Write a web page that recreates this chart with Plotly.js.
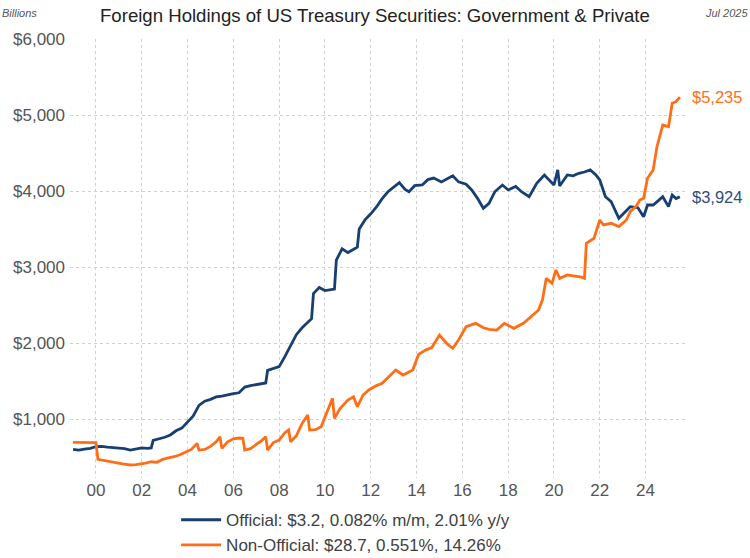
<!DOCTYPE html>
<html>
<head>
<meta charset="utf-8">
<script src="https://cdn.plot.ly/plotly-3.0.1.min.js"></script>
<style>html,body{margin:0;padding:0;background:#fff;}#chart{width:750px;height:558px;}</style>
</head>
<body>
<div id="chart"></div>
<script>
// ---- Data (billions USD) ----
var officialDates = ["1999-01","1999-04","1999-07","1999-10","2000-01","2000-04","2000-07","2000-10","2001-01","2001-04","2001-07","2001-10","2002-01","2002-04","2002-06","2002-07","2002-10","2003-01","2003-04","2003-07","2003-10","2004-01","2004-04","2004-07","2004-10","2005-01","2005-04","2005-07","2005-10","2006-01","2006-04","2006-07","2006-10","2007-01","2007-04","2007-06","2007-07","2007-10","2008-01","2008-04","2008-07","2008-10","2009-01","2009-04","2009-06","2009-07","2009-10","2010-01","2010-04","2010-06","2010-07","2010-10","2011-01","2011-04","2011-06","2011-07","2011-10","2012-01","2012-04","2012-07","2012-10","2013-01","2013-04","2013-07","2013-09","2013-12","2014-04","2014-07","2014-10","2015-02","2015-05","2015-08","2015-11","2016-03","2016-06","2016-09","2016-12","2017-03","2017-06","2017-10","2018-01","2018-05","2018-08","2018-12","2019-04","2019-08","2020-01","2020-03","2020-04","2020-08","2020-11","2021-02","2021-05","2021-08","2021-11","2022-01","2022-04","2022-07","2022-11","2023-02","2023-05","2023-09","2023-12","2024-02","2024-05","2024-08","2024-10","2025-01","2025-03","2025-05","2025-07"];
var officialValues = [600,590,605,615,635,640,630,625,615,610,592,610,620,615,620,720,735,760,790,845,880,960,1040,1180,1235,1259,1290,1300,1320,1335,1345,1420,1440,1455,1470,1475,1640,1660,1690,1820,1960,2110,2200,2280,2320,2650,2730,2690,2700,2710,3090,3240,3190,3230,3260,3500,3620,3700,3790,3900,3990,4050,4110,4020,3990,4070,4080,4150,4170,4120,4160,4200,4120,4090,4010,3900,3773,3838,3990,4079,4014,4060,3991,3925,4101,4211,4079,4277,4066,4211,4200,4233,4250,4277,4210,4145,3925,3860,3641,3720,3794,3780,3662,3816,3816,3880,3925,3794,3947,3900,3924];

var privateDates = ["1999-01","1999-06","1999-10","2000-01","2000-02","2000-06","2000-10","2001-03","2001-07","2001-10","2002-03","2002-06","2002-09","2002-12","2003-03","2003-06","2003-09","2003-12","2004-03","2004-06","2004-07","2004-10","2005-01","2005-04","2005-06","2005-07","2005-10","2006-01","2006-04","2006-06","2006-07","2006-10","2007-01","2007-04","2007-06","2007-07","2007-10","2008-01","2008-04","2008-06","2008-07","2008-10","2009-01","2009-04","2009-05","2009-08","2009-11","2010-02","2010-05","2010-06","2010-09","2011-01","2011-04","2011-06","2011-09","2011-12","2012-04","2012-07","2012-10","2013-02","2013-06","2013-11","2014-02","2014-06","2014-09","2015-01","2015-05","2015-08","2015-11","2016-03","2016-08","2016-12","2017-03","2017-07","2017-11","2018-04","2018-09","2019-01","2019-05","2019-07","2019-09","2019-12","2020-02","2020-04","2020-08","2020-12","2021-03","2021-05","2021-06","2021-10","2022-01","2022-03","2022-07","2022-11","2023-03","2023-05","2023-08","2023-10","2023-12","2024-02","2024-05","2024-07","2024-10","2025-01","2025-03","2025-05","2025-07"];
var privateValues = [693,690,688,690,470,450,430,410,395,400,420,438,430,470,490,504,530,560,600,680,592,600,640,700,767,614,700,740,750,746,592,610,660,720,767,592,690,724,820,855,701,780,943,1053,855,860,899,1100,1272,1009,1141,1250,1294,1162,1316,1382,1440,1470,1550,1645,1579,1645,1850,1910,1940,2105,1990,1930,2040,2215,2259,2200,2180,2171,2259,2193,2259,2346,2435,2566,2851,2786,2961,2851,2895,2880,2870,2851,3312,3378,3619,3553,3575,3531,3619,3728,3794,3882,3904,4167,4277,4583,4868,4846,5154,5175,5235];

var seriesNames = ["Official: $3.2, 0.082% m/m, 2.01% y/y", "Non-Official: $28.7, 0.551%, 14.26%"];
var endLabels = ["$3,924", "$5,235"];
var xTickVals = ["2000-01-01","2002-01-01","2004-01-01","2006-01-01","2008-01-01","2010-01-01","2012-01-01","2014-01-01","2016-01-01","2018-01-01","2020-01-01","2022-01-01","2024-01-01"];
var xTickText = ["00","02","04","06","08","10","12","14","16","18","20","22","24"];
var yTickVals = [1000,2000,3000,4000,5000,6000];
var yTickText = ["$1,000","$2,000","$3,000","$4,000","$5,000","$6,000"];

var navy = "#173f72";
var orange = "#ff6e17";

var traces = [
  {x: officialDates, y: officialValues, name: seriesNames[0], type: "scatter", mode: "lines",
   line: {color: navy, width: 2.8}},
  {x: privateDates, y: privateValues, name: seriesNames[1], type: "scatter", mode: "lines",
   line: {color: orange, width: 2.8}}
];

var font = "Liberation Sans, Arial, sans-serif";
var layout = {
  width: 750, height: 558,
  margin: {l: 70, r: 63, t: 39, b: 80, autoexpand: false},
  paper_bgcolor: "#ffffff", plot_bgcolor: "#ffffff",
  font: {family: font, color: "#555555", size: 17},
  showlegend: true,
  legend: {orientation: "v", x: 0.172, xanchor: "left", yref: "container", y: 0.1, yanchor: "top",
           font: {family: font, size: 17, color: "#404040"}, tracegroupgap: 0, itemwidth: 40,
           bgcolor: "rgba(0,0,0,0)"},
  xaxis: {type: "date", range: ["1998-11-13", "2025-10-23"], tickvals: xTickVals, ticktext: xTickText,
          showgrid: true, gridcolor: "#d0d0d0", griddash: "dot", gridwidth: 1,
          zeroline: false, showline: false, ticks: "", tickfont: {size: 17, color: "#555555"}},
  yaxis: {range: [224, 6000], tickvals: yTickVals, ticktext: yTickText, ticklabelstandoff: 4,
          showgrid: true, gridcolor: "#d0d0d0", griddash: "dot", gridwidth: 1,
          zeroline: false, showline: false, ticks: "", tickfont: {size: 17, color: "#555555"}},
  annotations: [
    {text: "Foreign Holdings of US Treasury Securities: Government &amp; Private", xref: "paper", yref: "paper",
     x: 0.495, y: 1, yshift: 24, xanchor: "center", yanchor: "middle", showarrow: false,
     font: {family: font, size: 18.6, color: "#222222"}},
    {text: "<i>Billions</i>", xref: "paper", yref: "paper", x: 0, xshift: -70, y: 1, yshift: 26,
     xanchor: "left", yanchor: "middle", showarrow: false, font: {family: font, size: 11, color: "#555555"}},
    {text: "<i>Jul 2025</i>", xref: "paper", yref: "paper", x: 1, xshift: 63, y: 1, yshift: 26,
     xanchor: "right", yanchor: "middle", showarrow: false, font: {family: font, size: 11, color: "#555555"}},
    {text: endLabels[0], xref: "paper", yref: "y", x: 1, xshift: 3, y: officialValues[officialValues.length-1],
     xanchor: "left", yanchor: "middle", showarrow: false, font: {family: font, size: 16.5, color: "#2e4d7e"}},
    {text: endLabels[1], xref: "paper", yref: "y", x: 1, xshift: 3, y: privateValues[privateValues.length-1],
     xanchor: "left", yanchor: "middle", showarrow: false, font: {family: font, size: 16.5, color: orange}}
  ]
};

Plotly.newPlot("chart", traces, layout, {displayModeBar: false, staticPlot: true});
</script>
</body>
</html>
